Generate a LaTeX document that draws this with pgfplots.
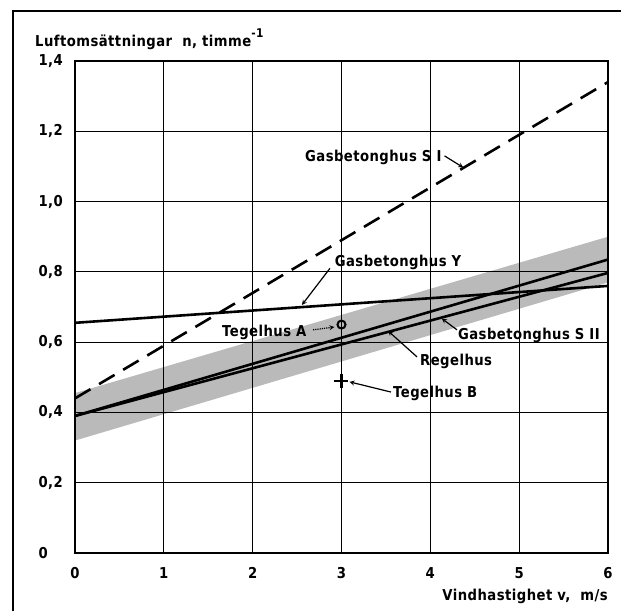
\documentclass[border=0pt]{standalone}
\usepackage{fontspec}
\setmainfont{DejaVu Sans}[LetterSpace=3, FakeStretch=0.88]
\usepackage{pgfplots}
\pgfplotsset{compat=1.18}
\newcommand\lf{\fontsize{15}{17}\selectfont\bfseries}
\begin{document}
\begin{tikzpicture}[x=1pt,y=1pt,font=\lf]
\path[use as bounding box] (0,0) rectangle (621,611);
\draw[line width=2.6pt] (13,0) -- (13,600) -- (621,600);
\begin{axis}[at={(75pt,58pt)}, anchor=south west, scale only axis,
  width=533pt, height=492pt,
  xmin=0, xmax=6, ymin=0, ymax=1.4,
  xtick={0,1,2,3,4,5,6}, xticklabels={0,1,2,3,4,5,6},
  ytick={0,0.2,0.4,0.6,0.8,1.0,1.2,1.4},
  yticklabels={0,{0,2},{0,4},{0,6},{0,8},{1,0},{1,2},{1,4}},
  grid=major, major grid style={black, line width=1pt},
  axis line style={line width=1.3pt},
  major tick length=0pt,
  tick label style={font=\lf},
  yticklabel style={anchor=west, xshift=-40pt},
  xticklabel style={yshift=-11pt},
  axis on top, clip=false]
% shaded band
\addplot[fill=black!27, draw=none] coordinates {(0,0.32) (6,0.77) (6,0.90) (0,0.455)};
% Gasbetonghus S I (dashed)
\addplot[black, line width=2.6pt, dash pattern=on 18pt off 10pt] coordinates {(0,0.44) (6,1.34)};
% Gasbetonghus Y
\addplot[black, line width=2.6pt] coordinates {(0,0.655) (6,0.76)};
% Gasbetonghus S II
\addplot[black, line width=2.6pt] coordinates {(0,0.39) (6,0.835)};
% Regelhus
\addplot[black, line width=2.6pt] coordinates {(0,0.39) (6,0.797)};
% Tegelhus A
\addplot[only marks, mark=o, mark size=4pt, line width=2pt] coordinates {(3,0.65)};
% Tegelhus B
\addplot[only marks, mark=+, mark size=7pt, line width=2.4pt] coordinates {(3,0.49)};
% annotations
\node[anchor=east, inner sep=2pt] at (axis cs:4.15,1.127) {Gasbetonghus S I};
\draw[-stealth, line width=1.2pt] (axis cs:4.16,1.13) -- (axis cs:4.37,1.097);
\node[anchor=west, inner sep=2pt] at (axis cs:2.9,0.828) {Gasbetonghus Y};
\draw[-stealth, line width=1.2pt] (axis cs:2.87,0.81) -- (axis cs:2.555,0.706);
\node[anchor=west, inner sep=0pt] at (axis cs:1.655,0.629) {Tegelhus A};
\draw[-stealth, line width=1.2pt, densely dotted] (axis cs:2.68,0.635) -- (axis cs:2.92,0.643);
\node[anchor=west, inner sep=0pt] at (axis cs:3.58,0.455) {Tegelhus B};
\draw[-stealth, line width=1.2pt] (axis cs:3.557,0.458) -- (axis cs:3.09,0.487);
\node[anchor=west, inner sep=0pt] at (axis cs:3.884,0.546) {Regelhus};
\draw[-stealth, line width=1.2pt] (axis cs:3.85,0.558) -- (axis cs:3.524,0.632);
\node[anchor=west, inner sep=0pt] at (axis cs:4.31,0.62) {Gasbetonghus S II};
\draw[-stealth, line width=1.2pt] (axis cs:4.30,0.635) -- (axis cs:4.13,0.667);
\end{axis}
\node[anchor=base west, inner sep=0pt] at (35,564) {Luftomsättningar\ \ n, timme\raisebox{9pt}{\fontsize{12}{13}\selectfont -1}};
\node[anchor=base east, inner sep=0pt] at (608,11) {Vindhastighet v,\ \ m/s};
\end{tikzpicture}
\end{document}
